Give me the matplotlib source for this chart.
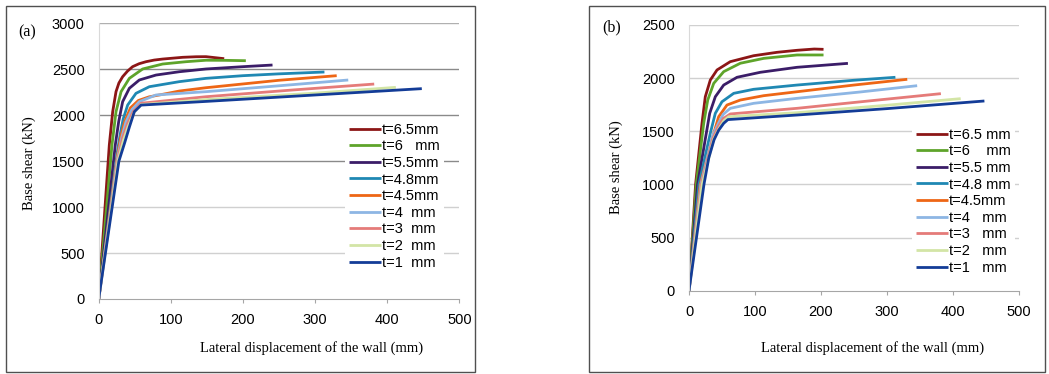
import matplotlib
matplotlib.use("Agg")
import matplotlib.pyplot as plt
from matplotlib.patches import Rectangle

W, H = 1049, 374

LABELS_A = ["t=6.5mm", "t=6   mm", "t=5.5mm", "t=4.8mm", "t=4.5mm",
            "t=4  mm", "t=3  mm", "t=2  mm", "t=1  mm"]
LABELS_B = ["t=6.5 mm", "t=6    mm", "t=5.5 mm", "t=4.8 mm", "t=4.5mm",
            "t=4   mm", "t=3   mm", "t=2   mm", "t=1   mm"]
COLORS = ["#8c1616", "#5ea42a", "#3b1d68", "#1f88b3", "#ee6615",
          "#8db6e4", "#e57b79", "#d3e5a6", "#133c97"]

# Panel (a): displacement (mm) / base shear (kN) per thickness
A_X = [
    [0, 14.7, 19.4, 24, 28, 33.2, 40, 47, 56, 65.6, 77, 88.7, 116.5, 135, 148.8, 174],
    [0, 18.4, 24, 31, 42.5, 61, 88.7, 121, 148.8, 175, 204],
    [0, 23, 27.7, 33.2, 42.5, 56.3, 79.5, 111.8, 148.8, 200, 241],
    [0, 25, 30, 34, 40.2, 51.7, 70.2, 111.8, 148.8, 200, 250, 313],
    [0, 25.5, 31, 36, 44, 55, 70, 84, 111.8, 148.8, 250, 330],
    [0, 26, 32, 37.9, 46, 56.3, 79.5, 148.8, 250, 346],
    [0, 26.5, 33, 40, 48, 58.7, 148.8, 270, 382],
    [0, 27, 34.5, 41, 49, 59, 148.8, 300, 412],
    [0, 28, 36, 42.5, 49.4, 58.7, 148.8, 300, 448],
]
A_Y = [
    [0, 1676, 2038, 2256, 2350, 2419, 2480, 2528, 2560, 2582, 2600, 2611, 2630, 2636, 2637, 2615],
    [0, 1676, 2038, 2256, 2401, 2503, 2557, 2582, 2598, 2597, 2593],
    [0, 1676, 1929, 2147, 2293, 2383, 2437, 2473, 2503, 2528, 2546],
    [0, 1560, 1800, 1960, 2111, 2238, 2310, 2365, 2401, 2430, 2450, 2470],
    [0, 1540, 1780, 1930, 2080, 2160, 2200, 2220, 2263, 2299, 2380, 2430],
    [0, 1530, 1760, 1929, 2060, 2147, 2220, 2256, 2320, 2383],
    [0, 1520, 1750, 1910, 2040, 2130, 2201, 2275, 2339],
    [0, 1510, 1730, 1880, 2030, 2115, 2170, 2240, 2303],
    [0, 1500, 1700, 1870, 2038, 2110, 2150, 2220, 2289],
]

# Panel (b)
B_X = [
    [0, 10, 19.7, 24.7, 32.3, 42.5, 62.6, 98, 133.5, 163.8, 190, 204],
    [0, 11, 22.3, 28.4, 37.5, 52.6, 77.8, 113.3, 163.8, 204],
    [0, 13, 26.2, 31.4, 39.9, 52.6, 72.8, 108.1, 163.8, 241],
    [0, 15, 32.3, 39.9, 50, 67.8, 98, 163.8, 250, 313],
    [0, 17, 37.5, 45, 57.6, 77.8, 113.3, 163.8, 250, 331],
    [0, 18, 36, 45, 52, 62.6, 98, 163.8, 260, 346],
    [0, 19, 36, 44, 52, 62.6, 163.8, 280, 382],
    [0, 20, 37, 45, 53, 60.2, 163.8, 300, 412],
    [0, 22.7, 30, 38, 45, 52.6, 59, 163.8, 300, 448],
]
B_Y = [
    [0, 1000, 1575, 1825, 1982, 2077, 2155, 2211, 2243, 2262, 2274, 2271],
    [0, 1000, 1575, 1794, 1951, 2061, 2140, 2186, 2218, 2218],
    [0, 1000, 1481, 1669, 1825, 1935, 2008, 2055, 2102, 2139],
    [0, 1000, 1481, 1669, 1778, 1857, 1895, 1935, 1980, 2008],
    [0, 1000, 1481, 1637, 1747, 1794, 1835, 1872, 1935, 1989],
    [0, 1000, 1460, 1580, 1660, 1716, 1763, 1810, 1870, 1929],
    [0, 1000, 1430, 1540, 1620, 1663, 1716, 1790, 1854],
    [0, 1000, 1420, 1520, 1600, 1637, 1675, 1745, 1807],
    [0, 1000, 1250, 1420, 1510, 1575, 1610, 1653, 1713, 1785],
]

SANS = "Liberation Sans"
SERIF = "Liberation Serif"


def fx(px):
    return px / W


def fy(py):
    return 1 - py / H


def panel(fig, rect, xs, ys, labels, ymax, grid_colors, leg_anchor):
    ax = fig.add_axes(rect)
    yt = list(range(0, ymax + 1, 500))
    for v, c in zip(yt[1:], grid_colors):
        ax.axhline(v, color=c, lw=1.0, zorder=0)
    for x, y, c, lab in zip(xs, ys, COLORS, labels):
        ax.plot(x, y, color=c, lw=2.0, label=lab, solid_capstyle="butt",
                solid_joinstyle="round")
    ax.set_xlim(0, 500)
    ax.set_ylim(0, ymax)
    ax.set_xticks(range(0, 501, 100))
    ax.set_yticks(yt)
    for s in ["top", "right"]:
        ax.spines[s].set_visible(False)
    ax.spines["left"].set_color("#d9d9d9")
    ax.spines["bottom"].set_color("#a6a6a6")
    ax.tick_params(axis="x", length=3, color="#a6a6a6", pad=7,
                   labelsize=10.5)
    ax.tick_params(axis="y", length=0, pad=10, labelsize=10.5)
    for t in ax.get_xticklabels() + ax.get_yticklabels():
        t.set_fontfamily(SANS)
    leg = ax.legend(loc="upper left",
                    bbox_to_anchor=(fx(leg_anchor[0]), fy(leg_anchor[1])),
                    bbox_transform=fig.transFigure, frameon=True,
                    fancybox=False, edgecolor="none", facecolor="white",
                    framealpha=1, borderaxespad=0, borderpad=0.25,
                    handlelength=2.2, handletextpad=0.1, labelspacing=0.18,
                    prop={"family": SANS, "size": 10.5})
    leg.set_zorder(5)
    return ax


fig = plt.figure(figsize=(W / 100, H / 100), dpi=100)

# panel frames
for x0, x1 in [(6, 475), (589, 1045)]:
    fig.patches.append(Rectangle((fx(x0), fy(372)), fx(x1 - x0),
                                 (372 - 6) / H, transform=fig.transFigure,
                                 fill=False, edgecolor="#505050", lw=1.0))

light = "#d0d0d0"
dark = "#8a8a8a"
panel(fig, [fx(98.7), fy(299), fx(360.6), 275.7 / H], A_X, A_Y, LABELS_A,
      3000, [light, light, dark, dark, dark, "#b0b0b0"], (345, 119))
panel(fig, [fx(689), fy(290.7), fx(329.7), 265.7 / H], B_X, B_Y, LABELS_B,
      2500, [light] * 5, (912, 124))

fig.text(fx(27), fy(32), "(a)", family=SERIF, size=11.5, ha="center",
         va="center")
fig.text(fx(612), fy(27), "(b)", family=SERIF, size=11.5, ha="center",
         va="center")
fig.text(fx(312), fy(348), "Lateral displacement of the wall (mm)",
         family=SERIF, size=10.5, ha="center", va="center")
fig.text(fx(873), fy(348), "Lateral displacement of the wall (mm)",
         family=SERIF, size=10.5, ha="center", va="center")
fig.text(fx(29), fy(163), "Base shear (kN)", family=SERIF, size=10.5,
         ha="center", va="center", rotation=90)
fig.text(fx(616), fy(167), "Base shear (kN)", family=SERIF, size=10.5,
         ha="center", va="center", rotation=90)

fig.savefig("out.png", dpi=100)
